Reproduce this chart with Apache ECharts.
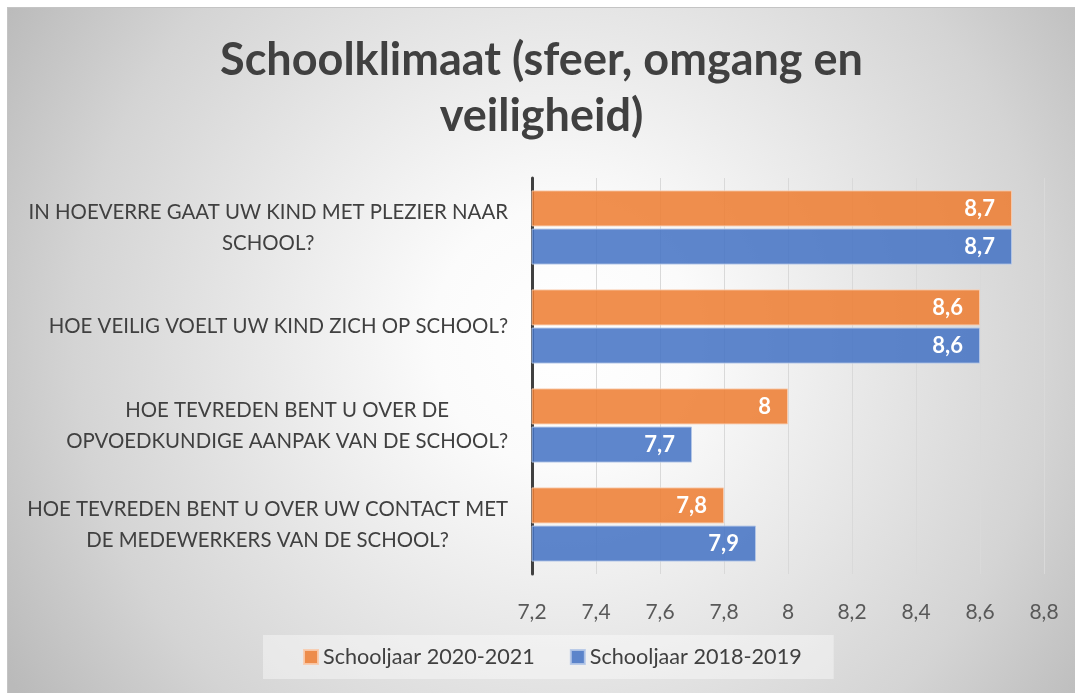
<!DOCTYPE html>
<html>
<head>
<meta charset="utf-8">
<script src="https://cdn.jsdelivr.net/npm/echarts@6/dist/echarts.min.js"></script>
<style>
  body { margin: 0; background: #fff; }
  #main {
    position: absolute; left: 7px; top: 7px;
    width: 1067px; height: 685px;
    border-left: 1px solid #c4c4c4; border-top: 1px solid #c4c4c4;
  }
</style>
</head>
<body>
<div id="main"></div>
<script>
// vragen, van boven naar beneden
const categories = [
  'IN HOEVERRE GAAT UW KIND MET PLEZIER NAAR\nSCHOOL?',
  'HOE VEILIG VOELT UW KIND ZICH OP SCHOOL?',
  'HOE TEVREDEN BENT U OVER DE\nOPVOEDKUNDIGE AANPAK VAN DE SCHOOL?',
  'HOE TEVREDEN BENT U OVER UW CONTACT MET\nDE MEDEWERKERS VAN DE SCHOOL?'
]
const seriesNames = ['Schooljaar 2020-2021', 'Schooljaar 2018-2019']
const values2021 = [8.7, 8.6, 8, 7.8]
const values2019 = [8.7, 8.6, 7.7, 7.9]
const axisMin = 7.2
const axisMax = 8.8
const axisStep = 0.2

const font = 'Lato'
const comma = v => (Math.round(v * 10) / 10).toString().replace('.', ',')

const chart = echarts.init(document.getElementById('main'))

const barLabel = {
  show: true, position: 'insideRight', distance: 17,
  color: '#fff', fontFamily: font, fontWeight: 'bold', fontSize: 22,
  formatter: p => comma(p.value)
}

const option = {
  backgroundColor: new echarts.graphic.RadialGradient(0.52, 0.48, 0.95, [
    { offset: 0, color: '#ffffff' },
    { offset: 0.2, color: '#fbfbfb' },
    { offset: 0.75, color: '#d4d4d4' },
    { offset: 1, color: '#bababa' }
  ]),
  animation: false,
  title: {
    text: 'Schoolklimaat (sfeer, omgang en\nveiligheid)',
    left: 'center',
    top: 19,
    textStyle: {
      fontFamily: font, fontWeight: 'bold', fontSize: 45,
      lineHeight: 56, color: '#404040'
    }
  },
  legend: {
    data: seriesNames,
    left: 255, top: 627,
    padding: [11, 32, 11, 40],
    backgroundColor: 'rgba(255,255,255,0.4)',
    itemWidth: 14, itemHeight: 14, itemGap: 35,
    icon: 'rect',
    textStyle: { fontFamily: font, fontSize: 21.6, color: '#404040' }
  },
  grid: { left: 524, right: 31, top: 170, bottom: 119, outerBoundsMode: 'none', containLabel: false },
  xAxis: {
    type: 'value',
    min: axisMin, max: axisMax, interval: axisStep,
    axisLine: { show: false },
    axisTick: { show: false },
    splitLine: { lineStyle: { color: '#d9d9d9', width: 1 } },
    axisLabel: {
      margin: 28, fontFamily: font, fontSize: 21, color: '#595959',
      formatter: v => comma(v)
    }
  },
  yAxis: {
    type: 'category',
    inverse: true,
    data: categories,
    axisLine: { show: true, lineStyle: { color: '#404040', width: 3 } },
    axisTick: { show: false },
    axisLabel: {
      margin: 24, color: '#404040', lineHeight: 31,
      fontFamily: font, fontSize: 20.4,
      formatter: v => v.split('\n').map(s => '{c|' + s + '}').join('\n'),
      rich: { c: { align: 'center', fontFamily: font, fontSize: 20.4, color: '#404040', lineHeight: 31 } }
    }
  },
  series: [
    {
      name: seriesNames[0], type: 'bar', data: values2021,
      barWidth: 36, barGap: '6%',
      itemStyle: { color: 'rgba(237,125,49,0.86)', borderColor: 'rgba(248,203,173,0.9)', borderWidth: 1 },
      label: barLabel
    },
    {
      name: seriesNames[1], type: 'bar', data: values2019,
      barWidth: 36, barGap: '6%',
      itemStyle: { color: 'rgba(68,114,196,0.86)', borderColor: 'rgba(180,199,231,0.9)', borderWidth: 1 },
      label: barLabel
    }
  ]
}
option && chart.setOption(option)
</script>
</body>
</html>
